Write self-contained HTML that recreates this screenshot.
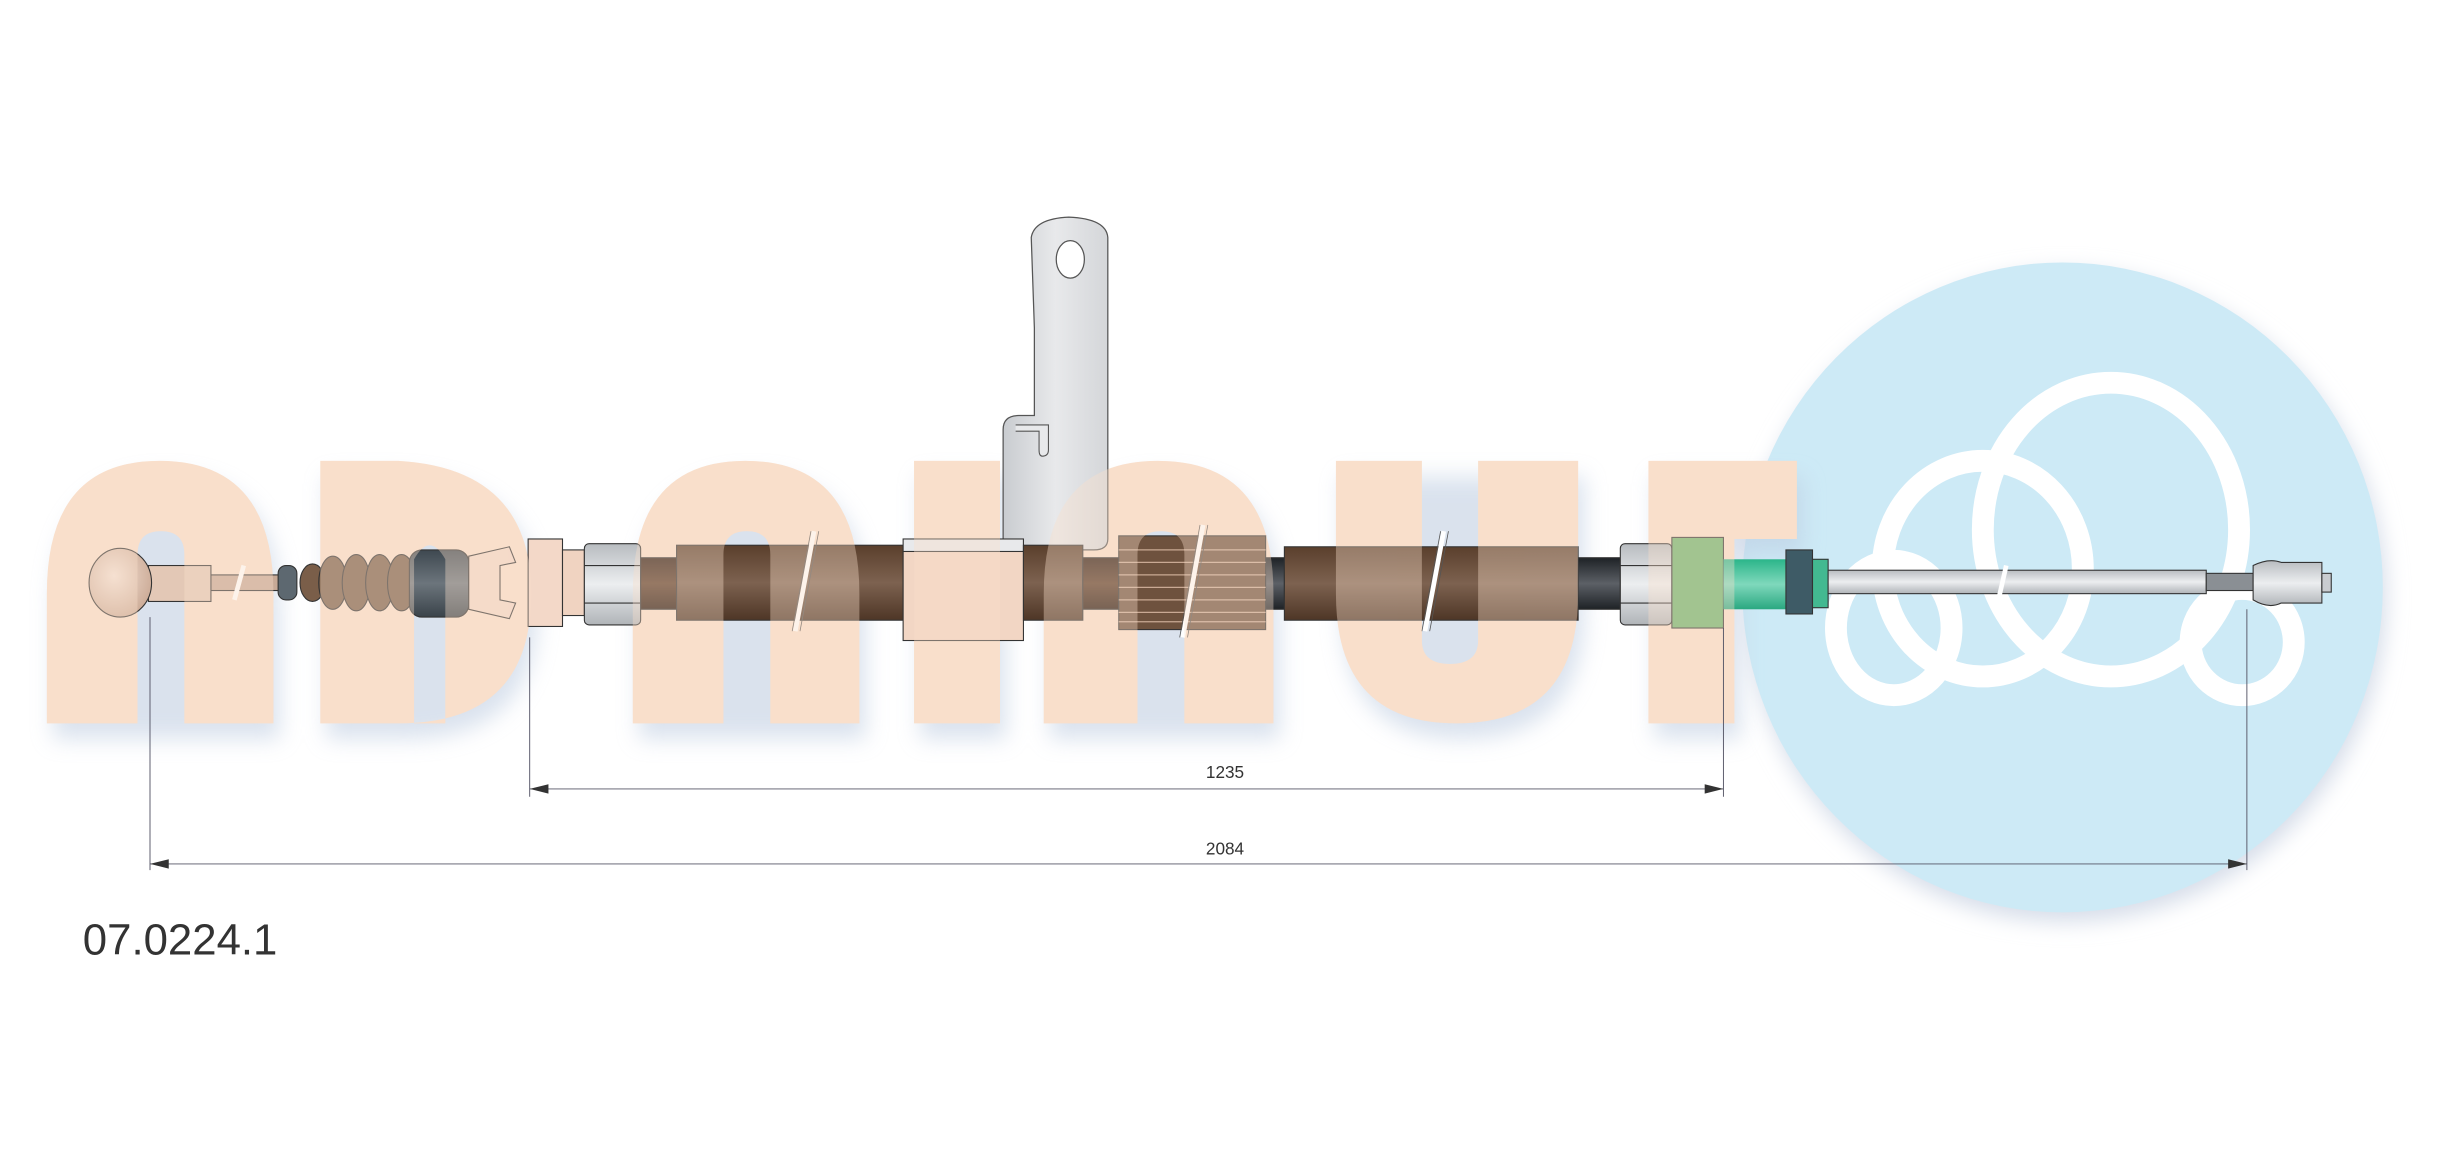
<!DOCTYPE html>
<html><head><meta charset="utf-8"><style>
html,body{margin:0;padding:0;background:#fff;}
svg{display:block;}
</style></head><body>
<svg width="2450" height="1167" viewBox="0 0 1568 747" preserveAspectRatio="none" xmlns="http://www.w3.org/2000/svg">
<defs>
<filter id="blur" x="-20%" y="-20%" width="140%" height="140%"><feGaussianBlur stdDeviation="7"/></filter>
<linearGradient id="brown" x1="0" y1="0" x2="0" y2="1"><stop offset="0" stop-color="#5a3f2c"/><stop offset="0.5" stop-color="#7d6250"/><stop offset="1" stop-color="#4e3626"/></linearGradient>
<linearGradient id="dark" x1="0" y1="0" x2="0" y2="1"><stop offset="0" stop-color="#2e1a10"/><stop offset="0.5" stop-color="#5a3a26"/><stop offset="1" stop-color="#2a170d"/></linearGradient>
<linearGradient id="black" x1="0" y1="0" x2="0" y2="1"><stop offset="0" stop-color="#1e2226"/><stop offset="0.5" stop-color="#5c6066"/><stop offset="1" stop-color="#1e2226"/></linearGradient>
<linearGradient id="grey" x1="0" y1="0" x2="0" y2="1"><stop offset="0" stop-color="#b8bcc0"/><stop offset="0.5" stop-color="#eceef0"/><stop offset="1" stop-color="#b0b4b8"/></linearGradient>
<linearGradient id="slate" x1="0" y1="0" x2="0" y2="1"><stop offset="0" stop-color="#3e4850"/><stop offset="0.5" stop-color="#6c757c"/><stop offset="1" stop-color="#3a434a"/></linearGradient>
<linearGradient id="teal" x1="0" y1="0" x2="0" y2="1"><stop offset="0" stop-color="#2bb58a"/><stop offset="0.5" stop-color="#7fd8bc"/><stop offset="1" stop-color="#2aa880"/></linearGradient>
<linearGradient id="plate" x1="0" y1="0" x2="1" y2="0"><stop offset="0" stop-color="#c9ccd0"/><stop offset="0.5" stop-color="#e8e9eb"/><stop offset="1" stop-color="#d4d6d9"/></linearGradient>
<radialGradient id="ball" cx="0.4" cy="0.4" r="0.7"><stop offset="0" stop-color="#f3e1d5"/><stop offset="1" stop-color="#c9a792"/></radialGradient>
<g id="letters" fill-rule="evenodd">
<path d="M30,463 V380 Q30,295 102,295 Q175,295 175,380 V463 H118 V355 Q118,340 103,340 Q88,340 88,355 V463 Z"/>
<path d="M205,463 V295 H255 Q340,300 340,380 Q340,463 255,463 Z M265,463 V358 Q275,340 285,358 V463 Z"/>
<path d="M405,463 V380 Q405,295 477,295 Q550,295 550,380 V463 H493 V355 Q493,340 478,340 Q463,340 463,355 V463 Z"/>
<rect x="585" y="295" width="55" height="168"/>
<path d="M668,463 V380 Q668,295 741,295 Q815,295 815,380 V463 H758 V355 Q758,340 743,340 Q728,340 728,355 V463 Z"/>
<path d="M855,295 V380 Q855,463 932,463 Q1010,463 1010,380 V295 H946 V410 Q946,425 928,425 Q910,425 910,410 V295 Z"/>
<path d="M1055,295 H1150 V345 H1110 V463 H1055 Z"/>
</g>
</defs>

<!-- blue logo disk -->
<ellipse cx="1322" cy="382" rx="205" ry="208" fill="#d6dde9" filter="url(#blur)"/>
<ellipse cx="1320" cy="376" rx="205" ry="208" fill="#cdeaf6"/>
<g fill="none" stroke="#fff" stroke-width="14">
<ellipse cx="1351" cy="339" rx="82" ry="94"/>
<ellipse cx="1269" cy="364" rx="64" ry="69"/>
<ellipse cx="1212" cy="402" rx="37" ry="43"/>
<ellipse cx="1435" cy="411" rx="33" ry="34"/>
</g>

<!-- letter shadow + base -->
<g fill="#bccbe0" filter="url(#blur)" opacity="0.55" transform="translate(4,10)">
<path d="M30,463 V380 Q30,295 102,295 Q175,295 175,380 V463 Z"/>
<path d="M205,463 V295 H255 Q340,300 340,380 Q340,463 255,463 Z"/>
<path d="M405,463 V380 Q405,295 477,295 Q550,295 550,380 V463 Z"/>
<rect x="585" y="295" width="55" height="168"/>
<path d="M668,463 V380 Q668,295 741,295 Q815,295 815,380 V463 Z"/>
<path d="M855,295 V380 Q855,463 932,463 Q1010,463 1010,380 V295 Z"/>
<path d="M1055,295 H1150 V345 H1110 V463 H1055 Z"/>
</g>
<use href="#letters" fill="#f9dfcb"/>

<!-- bracket plate -->
<path d="M642,352 V275 Q642,266 652,266 H662 V210 L660,152 Q662,140 684,139 Q708,140 709,152 V345 Q709,352 700,352 Z" fill="url(#plate)" stroke="#555" stroke-width="0.8"/>
<ellipse cx="685" cy="166" rx="9" ry="12" fill="#fff" stroke="#555" stroke-width="0.8"/>
<path d="M650,272 H671 V288 Q671,292 667,292 Q665,292 665,288 V276 H650" fill="#e8e9eb" stroke="#555" stroke-width="0.7"/>

<!-- cable -->
<g stroke="#333" stroke-width="0.7">
<rect x="134" y="368" width="46" height="10" fill="#c7a996"/>
<rect x="95" y="362" width="40" height="23" fill="#e3c8b6"/>
<ellipse cx="77" cy="373" rx="20" ry="22" fill="url(#ball)"/>
<rect x="178" y="362" width="12" height="22" rx="5" fill="#5d6870"/>
<ellipse cx="200" cy="373" rx="8" ry="12" fill="#7a5e49"/>
<ellipse cx="213" cy="373" rx="9" ry="17" fill="#7a5e49"/>
<ellipse cx="228" cy="373" rx="9" ry="18" fill="#7a5e49"/>
<ellipse cx="243" cy="373" rx="9" ry="18" fill="#7a5e49"/>
<ellipse cx="257" cy="373" rx="9" ry="18" fill="#7a5e49"/>
<rect x="262" y="352" width="38" height="43" rx="8" fill="url(#slate)"/>
<path d="M300,356 L326,350 L330,360 L320,362 L320,384 L330,386 L326,396 L300,390 Z" fill="#f3d8c8"/>
<rect x="338" y="345" width="22" height="56" fill="#f3d8c8"/>
<rect x="360" y="352" width="14" height="42" fill="#f0d3c1"/>
<rect x="374" y="348" width="36" height="52" rx="3" fill="url(#grey)"/>
<line x1="374" y1="362" x2="410" y2="362"/><line x1="374" y1="386" x2="410" y2="386"/>
<rect x="410" y="357" width="23" height="33" fill="url(#dark)"/>
<rect x="433" y="349" width="145" height="48" fill="url(#brown)"/>
<rect x="578" y="352" width="77" height="58" fill="#f2d6c4"/>
<rect x="578" y="345" width="77" height="8" fill="#e8e9eb"/>
<rect x="655" y="349" width="38" height="48" fill="url(#brown)"/>
<rect x="693" y="357" width="23" height="33" fill="url(#dark)"/>
<rect x="716" y="343" width="94" height="60" fill="#6e523e"/>
<rect x="810" y="357" width="12" height="33" fill="url(#black)"/>
<rect x="822" y="350" width="188" height="47" fill="url(#brown)"/>
<rect x="1010" y="357" width="27" height="33" fill="url(#black)"/>
<rect x="1037" y="348" width="33" height="52" rx="3" fill="url(#grey)"/>
<line x1="1037" y1="362" x2="1070" y2="362"/><line x1="1037" y1="386" x2="1070" y2="386"/>
<rect x="1070" y="344" width="33" height="58" fill="#6db46d"/>
<rect x="1103" y="358" width="42" height="32" fill="url(#teal)" stroke="none"/>
<rect x="1143" y="352" width="17" height="41" fill="#3e5b66"/>
<rect x="1160" y="358" width="10" height="31" fill="#43b991"/>
<rect x="1170" y="365" width="242" height="15" fill="url(#grey)"/>
<rect x="1412" y="367" width="30" height="11" fill="#8a8f94"/>
<path d="M1442,362 Q1452,357 1460,360 H1486 V386 H1460 Q1452,390 1442,384 Z" fill="url(#grey)"/>
<rect x="1486" y="367" width="6" height="12" fill="#c9ccd0"/>
</g>
<g stroke="#c9a994" stroke-width="0.8">
<line x1="716" y1="352" x2="810" y2="352"/><line x1="716" y1="360" x2="810" y2="360"/><line x1="716" y1="368" x2="810" y2="368"/><line x1="716" y1="376" x2="810" y2="376"/><line x1="716" y1="384" x2="810" y2="384"/><line x1="716" y1="392" x2="810" y2="392"/><line x1="716" y1="398" x2="810" y2="398"/>
</g>
<!-- break marks -->
<g stroke="#fff" stroke-width="3"><line x1="509" y1="404" x2="521" y2="340"/><line x1="757" y1="408" x2="770" y2="336"/><line x1="912" y1="404" x2="924" y2="340"/><line x1="150" y1="384" x2="156" y2="362"/><line x1="1279" y1="384" x2="1284" y2="362"/></g>
<g stroke="#555" stroke-width="0.5"><line x1="507" y1="404" x2="519" y2="340"/><line x1="512" y1="404" x2="524" y2="340"/><line x1="755" y1="408" x2="768" y2="336"/><line x1="760" y1="408" x2="773" y2="336"/><line x1="910" y1="404" x2="922" y2="340"/><line x1="915" y1="404" x2="927" y2="340"/></g>

<!-- translucent letter overlay -->
<use href="#letters" fill="#f9dfcb" opacity="0.38"/>

<!-- dimensions -->
<g stroke="#556" stroke-width="0.6" fill="none">
<line x1="339" y1="408" x2="339" y2="510"/>
<line x1="1103" y1="402" x2="1103" y2="510"/>
<line x1="96" y1="395" x2="96" y2="557"/>
<line x1="1438" y1="390" x2="1438" y2="557"/>
<line x1="339" y1="505" x2="1103" y2="505"/>
<line x1="96" y1="553" x2="1438" y2="553"/>
</g>
<g fill="#333">
<path d="M339,505 L351,502 L351,508 Z"/><path d="M1103,505 L1091,502 L1091,508 Z"/>
<path d="M96,553 L108,550 L108,556 Z"/><path d="M1438,553 L1426,550 L1426,556 Z"/>
</g>
<g font-family="Liberation Sans, sans-serif" fill="#333">
<text x="784" y="498" font-size="11" text-anchor="middle">1235</text>
<text x="784" y="547" font-size="11" text-anchor="middle">2084</text>
<text x="53" y="611" font-size="28" fill="#333">07.0224.1</text>
</g>
</svg>
</body></html>
